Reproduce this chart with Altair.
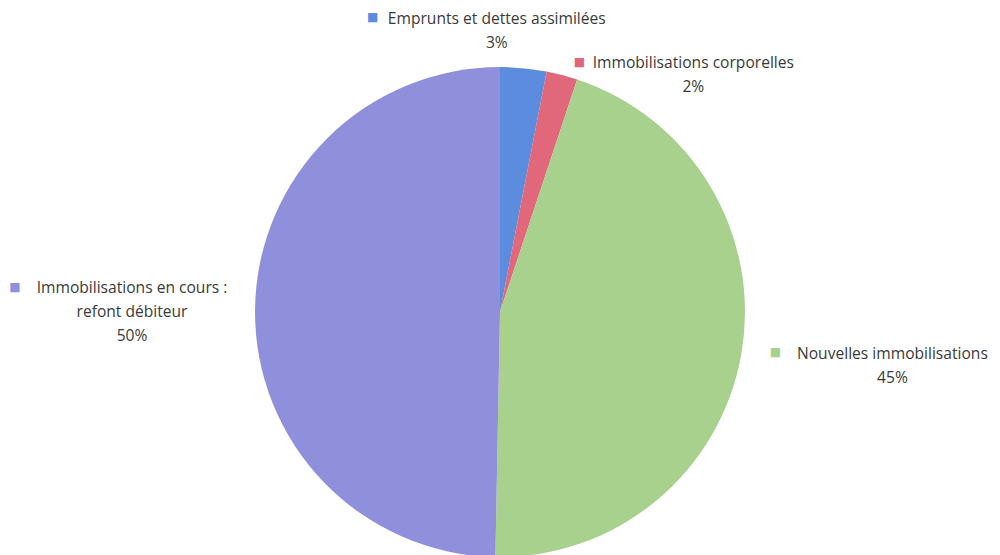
import altair as alt
import pandas as pd

# ---- data ----
categories = [
    "Emprunts et dettes assimilées",
    "Immobilisations corporelles",
    "Nouvelles immobilisations",
    "Immobilisations en cours : refont débiteur",
]
label_names = [
    "Emprunts et dettes assimilées",
    "Immobilisations corporelles",
    "Nouvelles immobilisations",
    "Immobilisations en cours :\nrefont débiteur",
]
values = [3.05, 2.05, 45.2, 49.7]
pct_labels = ["3%", "2%", "45%", "50%"]
colors = ["#5B8CDE", "#E0687A", "#A9D18E", "#8F8FDB"]

df = pd.DataFrame({
    "cat": categories,
    "label": [n + "\n" + p for n, p in zip(label_names, pct_labels)],
    "value": values,
    "order": list(range(len(categories))),
})

FONT = "Open Sans"
TEXT_COLOR = "#3a3a3a"

base = alt.Chart(df).encode(
    theta=alt.Theta("value:Q", stack=True),
    order=alt.Order("order:Q"),
)

arc = base.mark_arc(outerRadius=245).encode(
    color=alt.Color("cat:N", scale=alt.Scale(domain=categories, range=colors), legend=None)
)

# label placement per slice: (radius, text dx, text dy, key dx, key dy)
placements = [
    (280, -30, -14, -154, -16),
    (250, 130, -7, 16, -8),
    (250, 146, 0, 29, -2),
    (250, -118, -22, -235, -23),
]

layers = [arc]
for i, (r, tdx, tdy, kdx, kdy) in enumerate(placements):
    txt = base.mark_text(
        radius=r, dx=tdx, dy=tdy, align="center", baseline="middle",
        lineBreak="\n", font=FONT, fontSize=15.6, lineHeight=24, color=TEXT_COLOR,
    ).encode(
        detail="cat:N",
        text=alt.condition(f"datum.order == {i}", alt.Text("label:N"), alt.value("")),
    )
    key = base.mark_text(
        radius=r, dx=kdx, dy=kdy, align="center", baseline="middle",
        font="DejaVu Sans", fontSize=12,
    ).encode(
        color=alt.Color("cat:N", scale=alt.Scale(domain=categories, range=colors), legend=None),
        text=alt.condition(f"datum.order == {i}", alt.value("■"), alt.value("")),
    )
    layers += [txt, key]

chart = alt.layer(*layers).properties(
    width=984, height=608,
    autosize=alt.AutoSizeParams(type="none"),
    padding=0,
).configure_view(stroke=None)

chart.save("out.html", embed_options={"renderer": "svg", "actions": False})
